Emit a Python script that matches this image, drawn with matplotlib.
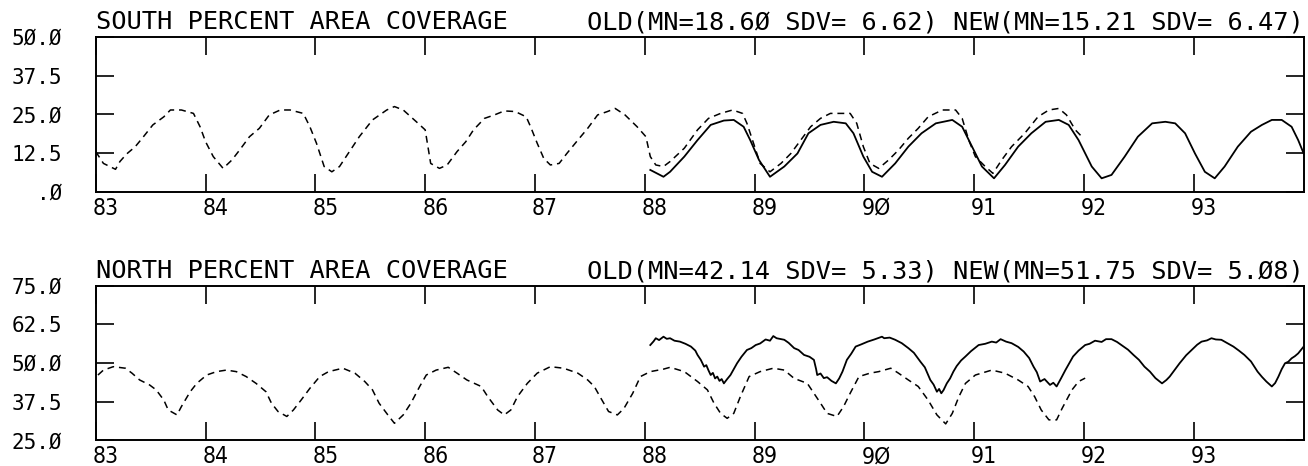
"""
South / north percent area coverage, old vs new series
"""

import matplotlib.pyplot as plt
from matplotlib.transforms import ScaledTranslation

# ---- data (decimal year, percent) ----
south_old_t = [83.00, 83.07, 83.18, 83.22, 83.28, 83.36, 83.43, 83.52, 83.62, 83.68, 83.78, 83.89,
               83.95, 84.00, 84.07, 84.16, 84.24, 84.31, 84.40, 84.49, 84.58, 84.68, 84.77, 84.89,
               84.95, 85.01, 85.08, 85.15, 85.22, 85.31, 85.40, 85.52, 85.65, 85.72, 85.80, 85.92,
               86.00, 86.05, 86.13, 86.20, 86.29, 86.37, 86.44, 86.54, 86.63, 86.72, 86.82, 86.92,
               86.96, 87.02, 87.08, 87.14, 87.22, 87.29, 87.39, 87.48, 87.57, 87.66, 87.73, 87.82,
               87.93, 88.01, 88.05, 88.10, 88.17, 88.23, 88.36, 88.48, 88.58, 88.69, 88.80, 88.89,
               88.93, 88.99, 89.05, 89.14, 89.24, 89.33, 89.42, 89.51, 89.60, 89.69, 89.87, 89.93,
               89.99, 90.05, 90.13, 90.22, 90.31, 90.40, 90.49, 90.58, 90.71, 90.83, 90.89, 90.95,
               91.01, 91.10, 91.17, 91.25, 91.34, 91.46, 91.58, 91.68, 91.77, 91.84, 91.92, 91.98]
south_old_v = [13.0, 9.2, 7.3, 9.8, 12.2, 14.6, 17.6, 21.6, 24.2, 26.4, 26.4, 25.3,
               21.0, 16.2, 11.4, 7.6, 10.3, 13.5, 17.8, 20.5, 24.8, 26.4, 26.4, 25.3,
               21.0, 15.7, 8.2, 6.5, 8.2, 13.0, 17.8, 23.2, 26.4, 27.5, 26.4, 22.6,
               20.0, 9.2, 7.6, 8.7, 13.0, 16.2, 20.0, 23.7, 24.8, 26.1, 25.9, 24.2,
               21.0, 15.7, 10.8, 8.7, 9.2, 12.4, 16.7, 20.5, 24.8, 25.9, 26.9, 24.8,
               21.0, 17.8, 11.4, 8.7, 8.2, 9.8, 14.1, 20.0, 23.7, 25.3, 26.4, 25.3,
               22.1, 15.7, 9.2, 6.5, 9.2, 12.4, 16.7, 21.0, 23.7, 25.3, 25.3, 22.1,
               14.6, 9.2, 7.6, 10.3, 13.5, 17.3, 20.5, 24.2, 26.4, 26.4, 23.7, 16.7,
               11.4, 8.2, 6.0, 10.3, 14.6, 18.9, 24.2, 26.4, 26.9, 24.8, 20.0, 17.8]

south_new_t = [88.05, 88.17, 88.23, 88.36, 88.48, 88.60, 88.72, 88.81, 88.90, 88.96, 89.04, 89.14,
               89.27, 89.39, 89.49, 89.60, 89.72, 89.83, 89.90, 89.99, 90.07, 90.16, 90.28, 90.40,
               90.52, 90.65, 90.80, 90.89, 90.98, 91.07, 91.18, 91.28, 91.40, 91.52, 91.65, 91.77,
               91.86, 91.95, 92.07, 92.16, 92.25, 92.37, 92.49, 92.62, 92.74, 92.83, 92.92, 93.01,
               93.10, 93.19, 93.28, 93.40, 93.52, 93.62, 93.71, 93.80, 93.89, 93.95, 94.00]
south_new_v = [7.1, 4.9, 6.5, 11.4, 16.7, 21.6, 23.0, 23.2, 21.0, 16.7, 10.3, 4.9,
               8.2, 12.4, 18.9, 21.6, 22.6, 22.1, 18.9, 11.4, 6.5, 4.9, 9.2, 14.6,
               18.9, 22.1, 23.2, 21.0, 14.6, 8.2, 4.4, 8.7, 14.6, 18.9, 22.6, 23.2,
               21.6, 16.7, 8.2, 4.4, 5.5, 11.4, 17.8, 22.1, 22.6, 22.1, 18.9, 12.4,
               6.5, 4.4, 8.2, 14.6, 19.4, 21.6, 23.2, 23.2, 21.0, 16.7, 12.4]

north_old_t = [83.02, 83.07, 83.16, 83.27, 83.33, 83.40, 83.49, 83.55, 83.62, 83.66, 83.74, 83.78,
               83.86, 83.92, 84.01, 84.10, 84.19, 84.28, 84.37, 84.46, 84.55, 84.60, 84.66, 84.74,
               84.80, 84.87, 84.95, 85.04, 85.12, 85.25, 85.36, 85.45, 85.52, 85.58, 85.66, 85.72,
               85.80, 85.87, 85.95, 86.01, 86.10, 86.21, 86.29, 86.38, 86.51, 86.57, 86.66, 86.72,
               86.78, 86.84, 86.93, 87.02, 87.14, 87.26, 87.39, 87.48, 87.54, 87.60, 87.67, 87.75,
               87.81, 87.89, 87.96, 88.05, 88.17, 88.23, 88.36, 88.48, 88.57, 88.63, 88.69, 88.75,
               88.81, 88.87, 88.95, 89.05, 89.17, 89.27, 89.36, 89.48, 89.54, 89.60, 89.66, 89.75,
               89.81, 89.87, 89.95, 90.05, 90.13, 90.24, 90.31, 90.40, 90.49, 90.58, 90.66, 90.74,
               90.80, 90.86, 90.92, 91.01, 91.16, 91.28, 91.40, 91.49, 91.55, 91.61, 91.68, 91.75,
               91.80, 91.89, 91.95, 92.01]
north_old_v = [46.1, 47.7, 48.8, 48.3, 46.7, 44.5, 42.9, 41.3, 38.0, 34.8, 33.2, 35.9,
               40.7, 43.4, 46.1, 47.2, 47.7, 47.2, 45.6, 43.4, 40.7, 37.0, 34.3, 32.7,
               34.8, 38.0, 41.8, 45.6, 47.2, 48.3, 46.7, 44.0, 41.3, 37.0, 33.2, 30.5,
               33.2, 37.0, 42.4, 46.1, 47.7, 48.6, 46.7, 44.5, 42.4, 39.1, 34.8, 33.2,
               34.8, 39.1, 43.4, 46.7, 48.8, 48.3, 46.7, 44.5, 42.4, 38.6, 34.3, 33.2,
               35.3, 40.2, 45.6, 47.2, 48.0, 48.6, 47.2, 44.0, 41.3, 37.0, 33.7, 32.1,
               33.7, 39.1, 45.6, 47.2, 48.3, 47.7, 45.0, 43.4, 40.2, 37.0, 33.7, 32.7,
               35.9, 40.2, 45.6, 46.7, 47.2, 48.3, 46.7, 44.5, 42.4, 38.0, 33.2, 30.3,
               33.7, 39.1, 43.4, 46.1, 47.7, 46.7, 44.5, 42.4, 39.1, 34.8, 31.6, 31.6,
               35.3, 41.3, 44.0, 45.1]

north_new_t = [88.05, 88.08, 88.10, 88.13, 88.17, 88.20, 88.23, 88.27, 88.32, 88.37, 88.42, 88.46,
               88.48, 88.51, 88.54, 88.56, 88.58, 88.60, 88.62, 88.64, 88.66, 88.68, 88.70, 88.72,
               88.75, 88.78, 88.81, 88.84, 88.88, 88.93, 88.97, 89.01, 89.05, 89.10, 89.14, 89.17,
               89.20, 89.27, 89.31, 89.36, 89.40, 89.45, 89.50, 89.54, 89.56, 89.57, 89.60, 89.63,
               89.66, 89.70, 89.74, 89.77, 89.80, 89.84, 89.88, 89.92, 89.97, 90.03, 90.09, 90.16,
               90.18, 90.23, 90.28, 90.34, 90.40, 90.45, 90.51, 90.55, 90.60, 90.63, 90.66, 90.68,
               90.70, 90.72, 90.75, 90.78, 90.81, 90.84, 90.88, 90.92, 90.97, 91.04, 91.10, 91.16,
               91.20, 91.24, 91.29, 91.34, 91.40, 91.45, 91.50, 91.54, 91.57, 91.60, 91.64, 91.69,
               91.72, 91.75, 91.79, 91.83, 91.86, 91.90, 91.95, 92.01, 92.05, 92.10, 92.16, 92.20,
               92.25, 92.30, 92.34, 92.40, 92.45, 92.50, 92.55, 92.60, 92.65, 92.71, 92.75, 92.78,
               92.83, 92.87, 92.93, 92.98, 93.03, 93.07, 93.12, 93.16, 93.20, 93.25, 93.30, 93.36,
               93.41, 93.46, 93.52, 93.58, 93.62, 93.66, 93.71, 93.74, 93.77, 93.80, 93.83, 93.86,
               93.89, 93.92, 93.95, 94.00]
north_new_v = [55.8, 57.0, 58.0, 57.4, 58.5, 57.8, 58.0, 57.2, 56.9, 56.2, 55.3, 54.0,
               52.6, 51.0, 48.8, 49.3, 47.6, 46.1, 46.8, 45.0, 45.6, 44.2, 44.8, 43.4,
               44.8, 46.1, 48.0, 49.9, 52.0, 54.2, 54.8, 55.8, 56.3, 57.6, 57.2, 58.7,
               58.0, 57.5, 56.5, 54.8, 54.2, 52.6, 52.0, 51.0, 48.0, 46.1, 46.6, 45.1,
               45.4, 44.2, 43.4, 45.0, 47.2, 51.0, 53.0, 55.3, 56.0, 56.9, 57.6, 58.5,
               58.0, 58.2, 57.5, 56.4, 54.8, 53.3, 50.4, 48.6, 44.5, 43.0, 40.7, 41.6,
               40.2, 41.2, 43.4, 45.0, 47.2, 49.0, 50.8, 52.1, 53.8, 55.8, 56.2, 56.9,
               56.6, 57.7, 56.9, 56.4, 55.2, 53.7, 51.6, 48.8, 47.0, 44.0, 44.8, 42.9,
               43.6, 42.4, 45.0, 47.7, 49.6, 52.1, 54.0, 55.8, 56.2, 57.2, 56.8, 57.7,
               57.7, 56.8, 55.8, 54.3, 52.6, 51.0, 48.8, 47.2, 45.1, 43.4, 44.5, 45.6,
               48.0, 49.9, 52.5, 54.2, 55.9, 56.9, 57.3, 58.0, 57.6, 57.5, 56.5, 55.3,
               54.0, 52.6, 50.5, 47.2, 45.5, 44.0, 42.4, 43.5, 45.6, 48.0, 49.9, 50.4,
               51.5, 52.2, 53.1, 55.3]

south_ticks = [0.0, 12.5, 25.0, 37.5, 50.0]
south_labels = [".\u00d8", "12.5", "25.\u00d8", "37.5", "5\u00d8.\u00d8"]
north_ticks = [25.0, 37.5, 50.0, 62.5, 75.0]
north_labels = ["25.\u00d8", "37.5", "5\u00d8.\u00d8", "62.5", "75.\u00d8"]
year_ticks = [83, 84, 85, 86, 87, 88, 89, 90, 91, 92, 93]
year_labels = ["83", "84", "85", "86", "87", "88", "89", "9\u00d8", "91", "92", "93"]

south_title = "SOUTH PERCENT AREA COVERAGE"
south_stats = "OLD(MN=18.6\u00d8 SDV= 6.62) NEW(MN=15.21 SDV= 6.47)"
north_title = "NORTH PERCENT AREA COVERAGE"
north_stats = "OLD(MN=42.14 SDV= 5.33) NEW(MN=51.75 SDV= 5.\u00d88)"


def panel(fig, ax, old_t, old_v, new_t, new_v, yticks, ylabels, title, stats):
    ax.plot(old_t, old_v, color="black", lw=1.1, linestyle=(0, (4.5, 3.2)))
    ax.plot(new_t, new_v, color="black", lw=1.3)

    ax.set_xlim(83, 94)
    ax.set_ylim(yticks[0], yticks[-1])

    for s in ax.spines.values():
        s.set_linewidth(1.4)

    ax.set_yticks(yticks)
    ax.set_yticklabels(ylabels, family="DejaVu Sans Mono", fontsize=15)
    ax.set_xticks(year_ticks)
    ax.set_xticklabels(year_labels, family="DejaVu Sans", stretch="condensed",
                       fontsize=16.5, ha="left", va="baseline")
    ax.tick_params(axis="y", direction="in", length=13, width=1.2, left=True, right=True, pad=24)
    ax.tick_params(axis="x", direction="in", length=13, width=1.2, top=True, bottom=True, pad=16.5)

    # year labels start a little left of their tick
    shift = ScaledTranslation(-3 / 100, 0, fig.dpi_scale_trans)
    for lab in ax.get_xticklabels():
        lab.set_transform(lab.get_transform() + shift)

    ax.annotate(title, xy=(0, 1), xycoords="axes fraction", xytext=(0, 5.3),
                textcoords="offset points", ha="left", va="baseline",
                family="DejaVu Sans Mono", fontsize=18.3)
    ax.annotate(stats, xy=(1, 1), xycoords="axes fraction", xytext=(0, 5.3),
                textcoords="offset points", ha="right", va="baseline",
                family="DejaVu Sans Mono", fontsize=18.3)


def main():
    fig = plt.figure(figsize=(13.08, 4.66), dpi=100)
    ax_s = fig.add_axes([0.0732, 0.588, 0.9235, 0.3333])
    ax_n = fig.add_axes([0.0732, 0.0552, 0.9235, 0.3318])

    panel(fig, ax_s, south_old_t, south_old_v, south_new_t, south_new_v,
          south_ticks, south_labels, south_title, south_stats)
    panel(fig, ax_n, north_old_t, north_old_v, north_new_t, north_new_v,
          north_ticks, north_labels, north_title, north_stats)

    fig.savefig("out.png", dpi=100)


if __name__ == "__main__":
    main()
